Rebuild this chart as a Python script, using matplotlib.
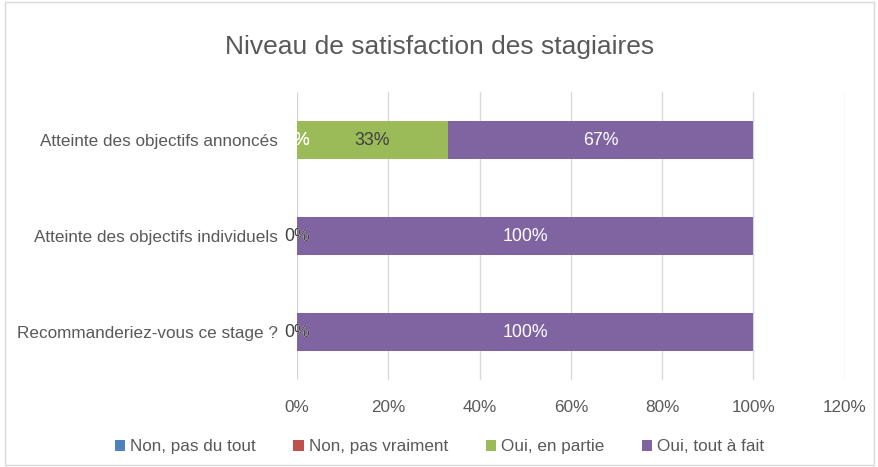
import numpy as np
import matplotlib
matplotlib.use("Agg")
import matplotlib.pyplot as plt
from matplotlib.patches import Rectangle

# données du graphique
categories = ["Atteinte des objectifs annoncés",
              "Atteinte des objectifs individuels",
              "Recommanderiez-vous ce stage ?"]
series_names = ["Non, pas du tout", "Non, pas vraiment", "Oui, en partie", "Oui, tout à fait"]
non_pas_du_tout = [0, 0, 0]
non_pas_vraiment = [0, 0, 0]
oui_en_partie = [33, 0, 0]
oui_tout_a_fait = [67, 100, 100]
x_ticks = [0, 20, 40, 60, 80, 100, 120]

colors = ["#4F81BD", "#C0504D", "#9BBB59", "#8064A2"]
label_colors = ["white", "white", "#404040", "white"]
text_gray = "#595959"
fs = 12.3

plt.rcParams['font.family'] = ['Liberation Sans', 'DejaVu Sans']

fig = plt.figure(figsize=(8.79, 4.67), dpi=100)
ax = fig.add_axes([0.338, 0.186, 0.623, 0.617])

y = np.arange(len(categories))
left = np.zeros(len(categories))
all_series = [non_pas_du_tout, non_pas_vraiment, oui_en_partie, oui_tout_a_fait]
for vals, name, col, lcol in zip(all_series, series_names, colors, label_colors):
    vals = np.array(vals, dtype=float)
    ax.barh(y, vals, left=left, height=0.4, color=col, label=name, zorder=2)
    for yi, (l, v) in enumerate(zip(left, vals)):
        ax.text(l + v / 2, yi, f"{v:.0f}%", ha="center", va="center",
                color=lcol, fontsize=12.8, zorder=3)
    left += vals

ax.set_xlim(0, 120)
ax.set_ylim(len(categories) - 0.5, -0.5)
ax.set_xticks(x_ticks)
ax.set_xticklabels([f"{t}%" for t in x_ticks], color=text_gray, fontsize=fs)
ax.set_yticks(y)
ax.set_yticklabels(categories, color=text_gray, fontsize=fs)
ax.tick_params(axis="both", length=0)
ax.tick_params(axis="x", pad=14)
ax.tick_params(axis="y", pad=14)
ax.grid(axis="x", color="#D9D9D9", linewidth=1, zorder=0)
ax.set_axisbelow(True)
for s in ax.spines.values():
    s.set_visible(False)

fig.text(0.5, 0.9, "Niveau de satisfaction des stagiaires", ha="center", va="center",
         fontsize=19, color=text_gray)

fig.legend(loc="center", bbox_to_anchor=(0.5, 0.043), ncol=4, frameon=False,
           handlelength=0.6, handleheight=0.6, handletextpad=0.3, columnspacing=2.2,
           fontsize=fs, labelcolor=text_gray)

fig.patches.append(Rectangle((0.006, 0.004), 0.988, 0.992, transform=fig.transFigure,
                             fill=False, edgecolor="#D9D9D9", linewidth=1))

fig.savefig("out.png", dpi=100)
